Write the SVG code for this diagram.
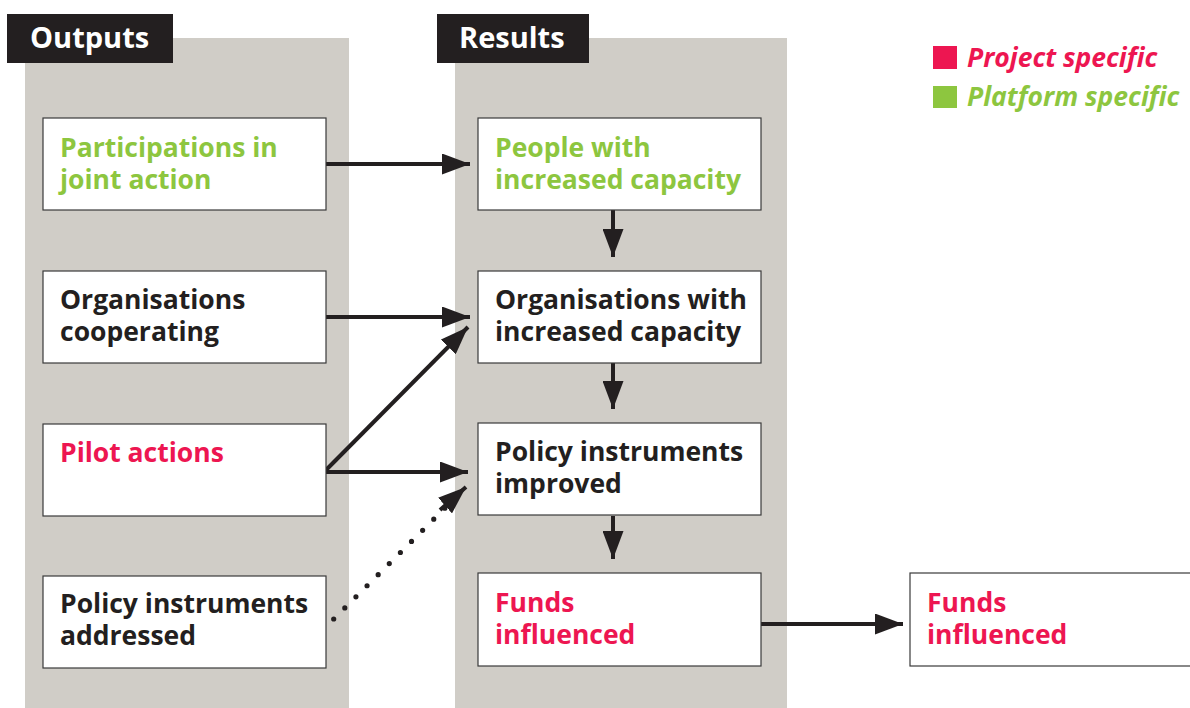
<svg xmlns="http://www.w3.org/2000/svg" width="1190" height="708" viewBox="0 0 1190 708">
<defs>
<style>
.panel{fill:#d0cdc7}
.tab{fill:#231f20}
.tabt{fill:#fff;font-family:"Open Sans",sans-serif;font-weight:700;font-size:29px}
.box{fill:#fff;stroke:#3a3a3a;stroke-width:1.2}
.t{font-family:"Open Sans",sans-serif;font-weight:700;font-size:26.5px;fill:#231f20}
.g{fill:#8dc63f}
.r{fill:#ed1651}
.leg{font-family:"Open Sans",sans-serif;font-weight:700;font-style:italic;font-size:26.5px}
.c{stroke:#231f20;stroke-width:4;fill:none}
.d{stroke:#231f20;stroke-width:5.2;fill:none;stroke-dasharray:0 15.7;stroke-linecap:round}
</style>
<marker id="ah" markerUnits="userSpaceOnUse" markerWidth="30" markerHeight="21" refX="28" refY="10.5" orient="auto">
<path d="M0,0 L28,10.5 L0,21 z" fill="#231f20"/>
</marker>
</defs>
<rect width="1190" height="708" fill="#fff"/>
<rect class="panel" x="25" y="38" width="324" height="670"/>
<rect class="panel" x="455" y="38" width="332" height="670"/>
<g id="tab-outputs"><rect class="tab" x="7" y="14" width="166" height="49"/><text class="tabt" x="30" y="48">Outputs</text></g>
<g id="tab-results"><rect class="tab" x="437" y="14" width="152" height="49"/><text class="tabt" x="459" y="48">Results</text></g>
<g id="legend">
<rect class="r" x="933" y="46" width="24" height="23"/><text class="leg r" x="967" y="67">Project specific</text>
<rect class="g" x="933" y="86" width="24" height="22"/><text class="leg g" x="967" y="106">Platform specific</text>
</g>
<g id="connectors">
<line class="c" x1="326" y1="164" x2="470" y2="164" marker-end="url(#ah)"/>
<line class="c" x1="326" y1="317" x2="470" y2="317" marker-end="url(#ah)"/>
<line class="c" x1="326" y1="470" x2="468" y2="327" marker-end="url(#ah)"/>
<line class="c" x1="326" y1="472" x2="468" y2="472" marker-end="url(#ah)"/>
<line class="d" x1="333.7" y1="619" x2="445" y2="508"/>
<line class="c" x1="440" y1="510" x2="466" y2="487" stroke-width="0" marker-end="url(#ah)"/>
<line class="c" x1="613" y1="210" x2="613" y2="257" marker-end="url(#ah)"/>
<line class="c" x1="613" y1="363" x2="613" y2="409" marker-end="url(#ah)"/>
<line class="c" x1="613" y1="516" x2="613" y2="559" marker-end="url(#ah)"/>
<line class="c" x1="761" y1="624" x2="903" y2="624" marker-end="url(#ah)"/>
</g>
<g id="participations"><rect class="box" x="43" y="118" width="283" height="92"/><text class="t g" x="60" y="157">Participations in<tspan x="60" dy="32">joint action</tspan></text></g>
<g id="organisations-cooperating"><rect class="box" x="43" y="271" width="283" height="92"/><text class="t" x="60" y="309">Organisations<tspan x="60" dy="32">cooperating</tspan></text></g>
<g id="pilot-actions"><rect class="box" x="43" y="424" width="283" height="92"/><text class="t r" x="60" y="462">Pilot actions</text></g>
<g id="policy-addressed"><rect class="box" x="43" y="576" width="283" height="92"/><text class="t" x="60" y="613">Policy instruments<tspan x="60" dy="32">addressed</tspan></text></g>
<g id="people-capacity"><rect class="box" x="478" y="118" width="283" height="92"/><text class="t g" x="495" y="157">People with<tspan x="495" dy="32">increased capacity</tspan></text></g>
<g id="organisations-capacity"><rect class="box" x="478" y="271" width="283" height="92"/><text class="t" x="495" y="309">Organisations with<tspan x="495" dy="32">increased capacity</tspan></text></g>
<g id="policy-improved"><rect class="box" x="478" y="423" width="283" height="92"/><text class="t" x="495" y="461">Policy instruments<tspan x="495" dy="32">improved</tspan></text></g>
<g id="funds-result"><rect class="box" x="478" y="573" width="283" height="93"/><text class="t r" x="495" y="612">Funds<tspan x="495" dy="32">influenced</tspan></text></g>
<g id="funds-external"><rect class="box" x="910" y="573" width="290" height="93"/><text class="t r" x="927" y="612">Funds<tspan x="927" dy="32">influenced</tspan></text></g>
</svg>
